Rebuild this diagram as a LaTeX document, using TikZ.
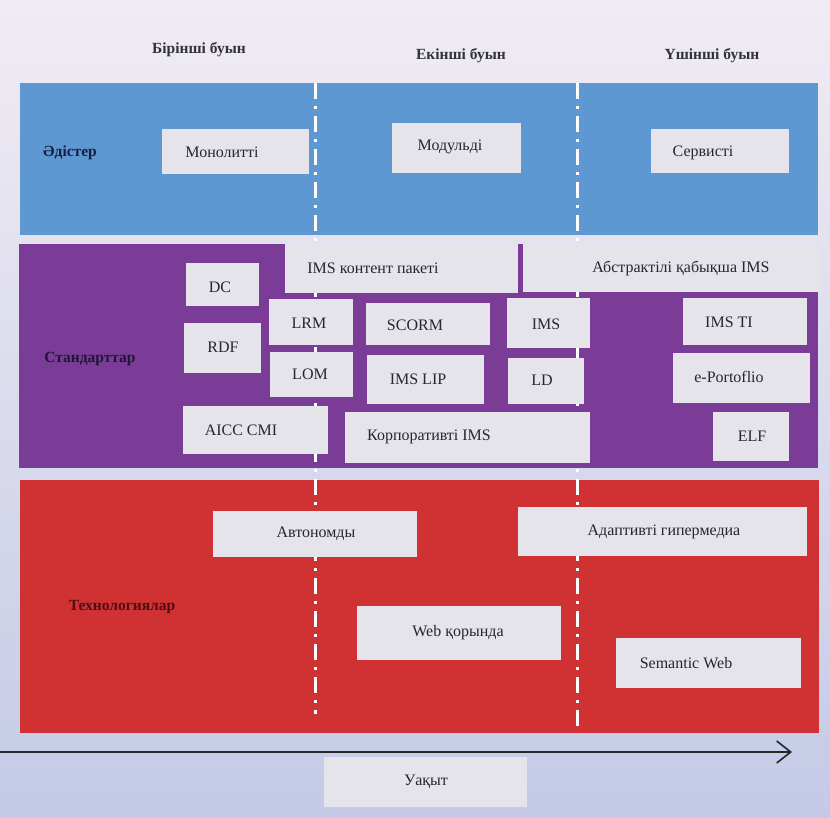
\documentclass[tikz,border=0pt]{standalone}
\usepackage{fontspec}
\setmainfont{Liberation Serif}
\usetikzlibrary{arrows.meta}
\definecolor{bgtop}{RGB}{241,236,243}
\definecolor{bgbot}{RGB}{196,202,230}
\definecolor{blueband}{RGB}{94,152,210}
\definecolor{purpleband}{RGB}{122,60,150}
\definecolor{redband}{RGB}{208,50,52}
\definecolor{boxfill}{RGB}{229,228,235}
\definecolor{boxtext}{RGB}{38,38,44}
\definecolor{labblue}{RGB}{24,30,66}
\definecolor{labpurple}{RGB}{30,24,54}
\definecolor{labred}{RGB}{78,14,18}
\definecolor{titlecol}{RGB}{50,50,58}
\tikzset{
  band/.style={fill=#1, draw=none, inner sep=0pt, outer sep=0pt, anchor=north west},
  boxst/.style={fill=boxfill, draw=none, inner sep=0pt, outer sep=0pt, anchor=north west},
  txt/.style={inner sep=0pt, text=boxtext, font=\fontsize{16}{18}\selectfont},
  title/.style={inner sep=0pt, text=titlecol, font=\fontsize{15.5}{17}\selectfont\bfseries},
  rowlab/.style={inner sep=0pt, font=\fontsize{15.5}{17}\selectfont\bfseries},
  sepline/.style={draw=white, line width=3pt, dash pattern=on 16pt off 7pt on 3pt off 7pt},
  timearrow/.style={draw=black!85, line width=1.6pt, -{Straight Barb[length=14pt,width=22pt,line width=1.6pt]}}
}
\newcommand\mkbox[8]{%
  \node[boxst, minimum width={(#4-#2)*1pt}, minimum height={(#5-#3)*1pt}] (#1) at (#2,#3) {};
  \node[txt] (#1t) at (#6,#7) {#8};}
\begin{document}
\begin{tikzpicture}[x=1pt,y=-1pt]
\useasboundingbox (0,0) rectangle (830,817);
\shade[top color=bgtop, bottom color=bgbot] (0,0) rectangle (830,817);

% titles
\node[title] (g1) at (199,50) {Бірінші буын};
\node[title] (g2) at (461,56) {Екінші буын};
\node[title] (g3) at (712,56) {Үшінші буын};

% bands
\node[band=blueband, minimum width=798pt, minimum height=152pt] (methods) at (20,83) {};
\node[band=purpleband, minimum width=799pt, minimum height=224pt] (standards) at (19,244) {};
\node[band=redband, minimum width=799pt, minimum height=253pt] (tech) at (20,480) {};

% separators
\coordinate (s1a) at (315,83);
\coordinate (s1b) at (315,714);
\coordinate (s2a) at (577,83);
\coordinate (s2b) at (577,726);
\draw[sepline] (s1a) -- (s1b);
\draw[sepline] (s2a) -- (s2b);

% row labels
\node[rowlab, text=labblue] (lmeth) at (70,153) {Әдістер};
\node[rowlab, text=labpurple] (lstd) at (90,359) {Стандарттар};
\node[rowlab, text=labred] (ltech) at (122,607) {Технологиялар};

% methods
\mkbox{mono}{162}{129}{309}{174}{222}{152}{Монолитті}
\mkbox{modul}{392}{123}{521}{173}{450}{147}{Модульді}
\mkbox{serv}{651}{129}{789}{173}{703}{153}{Сервисті}

% standards
\mkbox{imscp}{285}{244}{518}{293}{373}{268}{IMS контент пакеті}
\mkbox{abst}{523}{244}{819}{292}{681}{268}{Абстрактілі қабықша IMS}
\mkbox{dc}{186}{263}{259}{306}{220}{287}{DC}
\mkbox{rdf}{184}{323}{261}{373}{223}{347}{RDF}
\mkbox{lrm}{269}{299}{353}{345}{309}{323}{LRM}
\mkbox{lom}{270}{352}{353}{397}{310}{374}{LOM}
\mkbox{aicc}{183}{406}{328}{454}{241}{430}{AICC CMI}
\mkbox{scorm}{366}{303}{490}{345}{415}{325}{SCORM}
\mkbox{imslip}{367}{355}{484}{404}{418}{379}{IMS LIP}
\mkbox{corp}{345}{412}{590}{463}{429}{437}{Корпоративті IMS}
\mkbox{ims}{507}{298}{590}{348}{546}{324}{IMS}
\mkbox{ld}{508}{358}{584}{404}{542}{380}{LD}
\mkbox{imsti}{683}{298}{807}{345}{729}{322}{IMS TI}
\mkbox{eport}{673}{353}{810}{403}{729}{377}{e-Portoflio}
\mkbox{elf}{713}{412}{789}{461}{752}{436}{ELF}

% technologies
\mkbox{auto}{213}{511}{417}{557}{316}{534}{Автономды}
\mkbox{adapt}{518}{507}{807}{556}{664}{532}{Адаптивті гипермедиа}
\mkbox{web}{357}{606}{561}{660}{458}{633}{Web қорында}
\mkbox{sem}{616}{638}{801}{688}{686}{663}{Semantic Web}

% time axis
\coordinate (ta) at (0,752);
\coordinate (tb) at (792,752);
\draw[timearrow] (ta) -- (tb);
\mkbox{time}{324}{757}{527}{807}{426}{782}{Уақыт}
\end{tikzpicture}
\end{document}
